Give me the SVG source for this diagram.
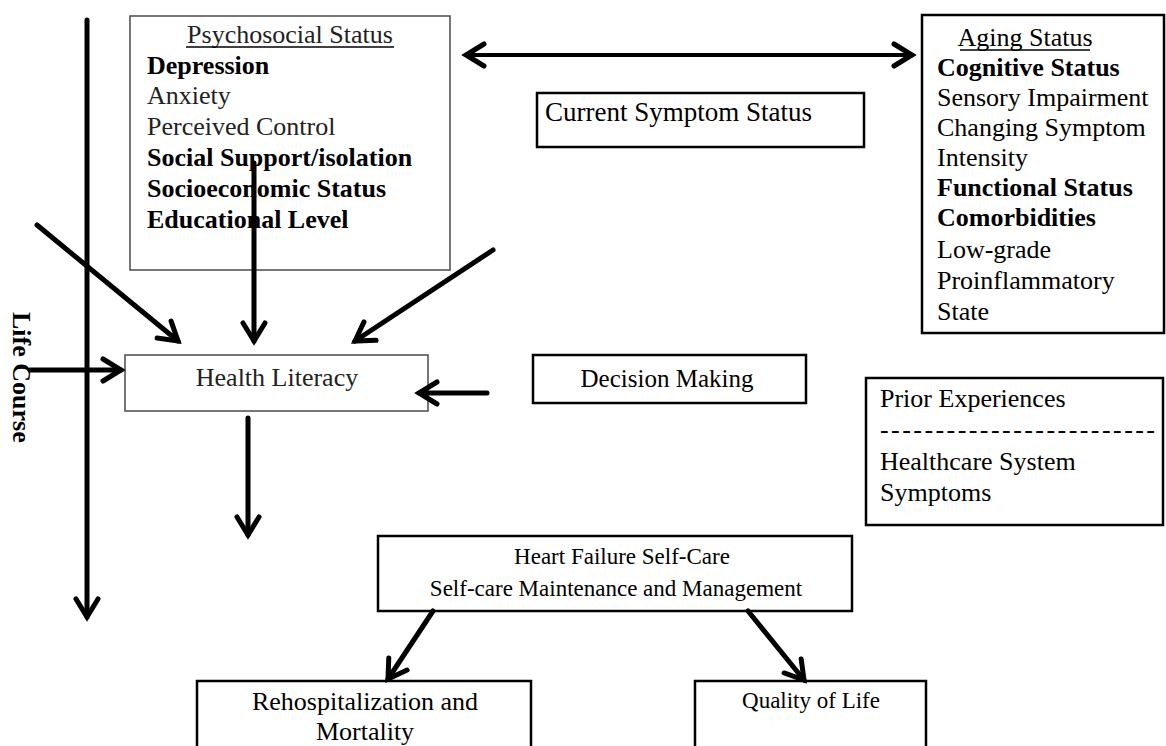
<svg xmlns="http://www.w3.org/2000/svg" width="1166" height="746" viewBox="0 0 1166 746">
<style>
  text{font-family:"Liberation Serif","Times New Roman",serif;fill:#000;font-size:26px}
  .b{font-weight:bold}
  .g{fill:#222}
  .s23{font-size:23px}
  .s25{font-size:25px}
  .s27{font-size:27px}
  .box{fill:#fff;stroke:#000;stroke-width:2.5}
  .gbox{fill:#fff;stroke:#555;stroke-width:1.6}
  .arr{stroke:#000;stroke-width:5;fill:none;stroke-linecap:round;marker-end:url(#ah)}
  .arr4{stroke:#000;stroke-width:4;fill:none;stroke-linecap:round;marker-start:url(#ah);marker-end:url(#ah)}
  .ul{stroke:#000;stroke-width:1.3}
</style>
<defs>
  <marker id="ah" markerUnits="userSpaceOnUse" viewBox="-26 -16 36 32" refX="0" refY="0" markerWidth="36" markerHeight="32" orient="auto-start-reverse" style="overflow:visible">
    <path d="M-18,-11 L0,0 L-18,11" fill="none" stroke="#000" stroke-width="5" stroke-linecap="round" stroke-linejoin="miter"/>
  </marker>
</defs>

<g id="psychosocial">
  <rect class="gbox" x="130" y="16" width="320" height="254"/>
  <text class="g" x="290" y="43" text-anchor="middle">Psychosocial Status</text>
  <line class="ul" x1="186" y1="47" x2="394" y2="47"/>
  <text class="b" x="147" y="74">Depression</text>
  <text class="g" x="147" y="104">Anxiety</text>
  <text class="g" x="147" y="135">Perceived Control</text>
  <text class="b" x="147" y="166">Social Support/isolation</text>
  <text class="b" x="147" y="197">Socioeconomic Status</text>
  <text class="b" x="147" y="228">Educational Level</text>
</g>

<g id="current-symptom">
  <rect class="box" x="537" y="93" width="327" height="54"/>
  <text class="s27" x="545" y="121">Current Symptom Status</text>
</g>

<g id="aging">
  <rect class="box" x="922" y="15" width="242" height="318"/>
  <text x="1025" y="46" text-anchor="middle">Aging Status</text>
  <line class="ul" x1="960" y1="50" x2="1090" y2="50"/>
  <text class="b" x="937" y="76">Cognitive Status</text>
  <text x="937" y="106">Sensory Impairment</text>
  <text x="937" y="136">Changing Symptom</text>
  <text x="937" y="166">Intensity</text>
  <text class="b" x="937" y="196">Functional Status</text>
  <text class="b" x="937" y="226">Comorbidities</text>
  <text x="937" y="258">Low-grade</text>
  <text x="937" y="289">Proinflammatory</text>
  <text x="937" y="320">State</text>
</g>

<g id="life-course">
  <text class="b" transform="translate(13,312) rotate(90)">Life Course</text>
</g>

<g id="health-literacy">
  <rect class="gbox" x="125" y="355" width="303" height="56"/>
  <text class="g" x="277" y="386" text-anchor="middle">Health Literacy</text>
</g>

<g id="decision-making">
  <rect class="box" x="533" y="355" width="273" height="48"/>
  <text class="s25" x="667" y="387" text-anchor="middle">Decision Making</text>
</g>

<g id="prior-experiences">
  <rect class="box" x="866" y="378" width="297" height="147"/>
  <text x="880" y="407">Prior Experiences</text>
  <text x="880" y="438" textLength="275" lengthAdjust="spacing">-------------------------</text>
  <text x="880" y="470">Healthcare System</text>
  <text x="880" y="501">Symptoms</text>
</g>

<g id="self-care">
  <rect class="box" x="378" y="536" width="474" height="75"/>
  <text class="s23" x="622" y="564" text-anchor="middle">Heart Failure Self-Care</text>
  <text class="s23" x="616" y="596" text-anchor="middle">Self-care Maintenance and Management</text>
</g>

<g id="rehospitalization">
  <rect class="box" x="197" y="681" width="334" height="80"/>
  <text x="365" y="710" text-anchor="middle">Rehospitalization and</text>
  <text x="365" y="740" text-anchor="middle">Mortality</text>
</g>

<g id="quality-of-life">
  <rect class="box" x="695" y="681" width="231" height="80"/>
  <text class="s23" x="811" y="708" text-anchor="middle">Quality of Life</text>
</g>

<g id="connectors">
  <line class="arr" x1="87" y1="20" x2="87" y2="617"/>
  <line class="arr4" x1="466" y1="55" x2="912" y2="55"/>
  <line class="arr" x1="37" y1="225" x2="178" y2="341"/>
  <line class="arr" x1="254" y1="163" x2="254" y2="341"/>
  <line class="arr" x1="493" y1="250" x2="355" y2="341"/>
  <line class="arr" x1="30" y1="370" x2="121" y2="370"/>
  <line class="arr" x1="487" y1="393" x2="419" y2="393"/>
  <line class="arr" x1="248" y1="418" x2="248" y2="535"/>
  <line class="arr" x1="433" y1="611" x2="388" y2="679"/>
  <line class="arr" x1="748" y1="611" x2="804" y2="680"/>
</g>
</svg>
